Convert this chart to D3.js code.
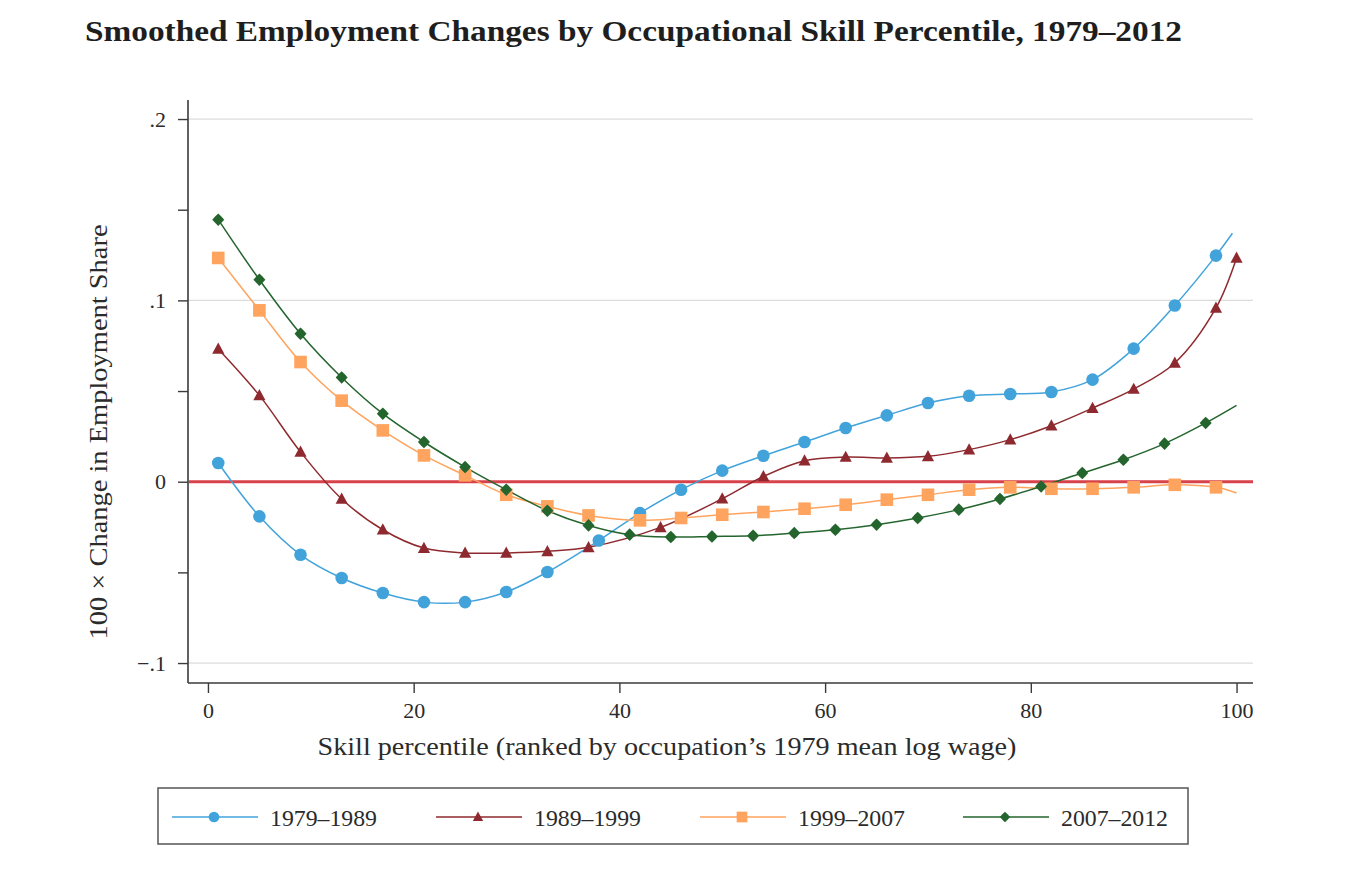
<!DOCTYPE html>
<html><head><meta charset="utf-8">
<script src="https://cdn.jsdelivr.net/npm/d3@7"></script>
<style>body{margin:0;background:#fff}</style>
</head><body>
<svg id="chart" width="1370" height="870"></svg>
<script>
// ---- data ----
const chartTitle = "Smoothed Employment Changes by Occupational Skill Percentile, 1979–2012";
const xLabel = "Skill percentile (ranked by occupation’s 1979 mean log wage)";
const yLabel = "100 × Change in Employment Share";
const seriesNames = ["1979–1989", "1989–1999", "1999–2007", "2007–2012"];

const blueX = [1,5,9,13,17,21,25,29,33,38,42,46,50,54,58,62,66,70,74,78,82,86,90,94,98];
const blueY = [0.0103,-0.0191,-0.0403,-0.0531,-0.0614,-0.0664,-0.0664,-0.0608,-0.0498,-0.0324,-0.0173,-0.0044,0.0061,0.0143,0.0219,0.0296,0.0366,0.0434,0.0474,0.0484,0.0495,0.0563,0.0734,0.0972,0.1247];
const blueEnd = [99.6, 0.137];

const redX = [1,5,9,13,17,21,25,29,33,37,44,50,54,58,62,66,70,74,78,82,86,90,94,98,100];
const redY = [0.0732,0.0476,0.0164,-0.0095,-0.0265,-0.0366,-0.0393,-0.0393,-0.0384,-0.0362,-0.0252,-0.0094,0.0029,0.0116,0.0136,0.0131,0.0140,0.0177,0.0232,0.0309,0.0406,0.0511,0.0655,0.0958,0.1234];
const redEnd = null;

const orangeX = [1,5,9,13,17,21,25,29,33,37,42,46,50,54,58,62,66,70,74,78,82,86,90,94,98];
const orangeY = [0.1234,0.0945,0.0660,0.0447,0.0283,0.0145,0.0035,-0.0072,-0.0136,-0.0186,-0.0213,-0.0200,-0.0182,-0.0167,-0.0149,-0.0127,-0.0099,-0.0072,-0.0044,-0.0031,-0.0039,-0.0039,-0.0031,-0.0017,-0.0031];
const orangeEnd = [100, -0.0062];

const greenX = [1,5,9,13,17,21,25,29,33,37,41,45,49,53,57,61,65,69,73,77,81,85,89,93,97];
const greenY = [0.1445,0.1114,0.0816,0.0575,0.0375,0.0219,0.0081,-0.0044,-0.0160,-0.0241,-0.0292,-0.0305,-0.0302,-0.0298,-0.0283,-0.0265,-0.0237,-0.0200,-0.0154,-0.0095,-0.0026,0.0048,0.0121,0.0210,0.0324];
const greenEnd = [100, 0.0421];

const xTickValues = [0,20,40,60,80,100];
const yTickValues = [-0.1, 0, 0.1, 0.2];
const yTickLabels = ["−.1", "0", ".1", ".2"];
const yMinorTicks = [-0.05, 0.05, 0.15];

// ---- styling / layout ----
const colors = ["#42a3db", "#8e2a2f", "#ffa45e", "#24652e"];
const shapes = ["circle", "triangle", "square", "diamond"];
const FONT = "'Liberation Serif', 'DejaVu Serif', serif";
const textCol = "#2b2b2b";

const svg = d3.select("#chart");
const L = 188, R = 1253, T = 100, B = 683;
const x = d3.scaleLinear().domain([-1.94, 101.6]).range([L, R]);
const y = d3.scaleLinear().domain([-0.111, 0.2105]).range([B, T]);

const series = [
  {name: seriesNames[0], xs: blueX, ys: blueY, end: blueEnd},
  {name: seriesNames[1], xs: redX, ys: redY, end: redEnd},
  {name: seriesNames[2], xs: orangeX, ys: orangeY, end: orangeEnd},
  {name: seriesNames[3], xs: greenX, ys: greenY, end: greenEnd}
];

function fitText(sel, w) {
  sel.attr("textLength", w).attr("lengthAdjust", "spacingAndGlyphs");
}

// title
svg.append("text").attr("x", 85).attr("y", 41)
  .attr("font-family", FONT).attr("font-weight", "bold").attr("font-size", 30)
  .attr("fill", "#1e1e1e").text(chartTitle).call(fitText, 1097);

// gridlines
svg.append("g").selectAll("line").data(yTickValues).join("line")
  .attr("x1", L).attr("x2", R).attr("y1", d => y(d)).attr("y2", d => y(d))
  .attr("stroke", "#dcdcdc").attr("stroke-width", 1.2);

// y axis
const yAxis = d3.axisLeft(y).tickValues(yTickValues)
  .tickFormat((d, i) => yTickLabels[i]).tickSize(10).tickPadding(12);
const gy = svg.append("g").attr("transform", `translate(${L},0)`).call(yAxis);
gy.select(".domain").attr("stroke", "#3a3a3a").attr("stroke-width", 1.6)
  .attr("d", `M0,${T}V${B}`);
gy.selectAll(".tick line").attr("stroke", "#3a3a3a").attr("stroke-width", 1.4);
gy.selectAll(".tick text").attr("font-family", FONT).attr("font-size", 22).attr("fill", textCol);
const yMinor = d3.axisLeft(y).tickValues(yMinorTicks).tickFormat("").tickSize(10);
const gym = svg.append("g").attr("transform", `translate(${L},0)`).call(yMinor);
gym.select(".domain").remove();
gym.selectAll(".tick line").attr("stroke", "#3a3a3a").attr("stroke-width", 1.4);

// x axis
const xAxis = d3.axisBottom(x).tickValues(xTickValues).tickSize(10).tickPadding(9);
const gx = svg.append("g").attr("transform", `translate(0,${B})`).call(xAxis);
gx.select(".domain").attr("stroke", "#3a3a3a").attr("stroke-width", 1.6)
  .attr("d", `M${L},0H${R}`);
gx.selectAll(".tick line").attr("stroke", "#3a3a3a").attr("stroke-width", 1.4);
gx.selectAll(".tick text").attr("font-family", FONT).attr("font-size", 22).attr("fill", textCol);

// axis titles
svg.append("text").attr("x", 667).attr("y", 755).attr("text-anchor", "middle")
  .attr("font-family", FONT).attr("font-size", 25).attr("fill", textCol)
  .text(xLabel).call(fitText, 699);
svg.append("text").attr("transform", `translate(107,432) rotate(-90)`).attr("text-anchor", "middle")
  .attr("font-family", FONT).attr("font-size", 25).attr("fill", textCol)
  .text(yLabel).call(fitText, 415);

// zero line
svg.append("line").attr("x1", L + 1).attr("x2", R).attr("y1", y(0)).attr("y2", y(0))
  .attr("stroke", "#d8424a").attr("stroke-width", 3);

// markers
function drawMarker(g, shape, color, cx, cy, scale) {
  const s = scale || 1;
  if (shape === "circle") {
    g.append("circle").attr("cx", cx).attr("cy", cy).attr("r", 6.3 * s).attr("fill", color);
  } else if (shape === "square") {
    const h = 6.3 * s;
    g.append("rect").attr("x", cx - h).attr("y", cy - h).attr("width", 2 * h).attr("height", 2 * h).attr("fill", color);
  } else if (shape === "triangle") {
    const h = 6.4 * s;
    g.append("path").attr("d", `M${cx},${cy - h}L${cx + h * 0.95},${cy + h * 0.75}L${cx - h * 0.95},${cy + h * 0.75}Z`).attr("fill", color);
  } else {
    const h = 6.3 * s;
    g.append("path").attr("d", `M${cx},${cy - h}L${cx + h * 0.5},${cy - h * 0.5}L${cx + h * 0.95},${cy}L${cx + h * 0.5},${cy + h * 0.5}L${cx},${cy + h}L${cx - h * 0.5},${cy + h * 0.5}L${cx - h * 0.95},${cy}L${cx - h * 0.5},${cy - h * 0.5}Z`).attr("fill", color);
  }
}

const line = d3.line().x(d => x(d[0])).y(d => y(d[1])).curve(d3.curveCatmullRom.alpha(0.5));
const plot = svg.append("g");
series.forEach((s, i) => {
  const pts = s.xs.map((v, j) => [v, s.ys[j]]);
  const linePts = s.end ? pts.concat([s.end]) : pts;
  plot.append("path").attr("d", line(linePts)).attr("fill", "none")
    .attr("stroke", colors[i]).attr("stroke-width", 1.5);
});
series.forEach((s, i) => {
  const g = plot.append("g");
  s.xs.forEach((v, j) => drawMarker(g, shapes[i], colors[i], x(v), y(s.ys[j])));
});

// legend
const lg = svg.append("g");
lg.append("rect").attr("x", 158).attr("y", 788).attr("width", 1030).attr("height", 56)
  .attr("fill", "#fff").attr("stroke", "#555").attr("stroke-width", 1.5);
const legX = [172, 436, 700, 963];
series.forEach((s, i) => {
  const x0 = legX[i];
  lg.append("line").attr("x1", x0).attr("x2", x0 + 86).attr("y1", 817).attr("y2", 817)
    .attr("stroke", colors[i]).attr("stroke-width", 1.8).attr("opacity", 0.75);
  drawMarker(lg, shapes[i], colors[i], x0 + 42, 817, 0.85);
  lg.append("text").attr("x", x0 + 98).attr("y", 826).attr("font-family", FONT)
    .attr("font-size", 23).attr("fill", textCol).text(s.name).call(fitText, 107);
});
</script>
</body></html>
